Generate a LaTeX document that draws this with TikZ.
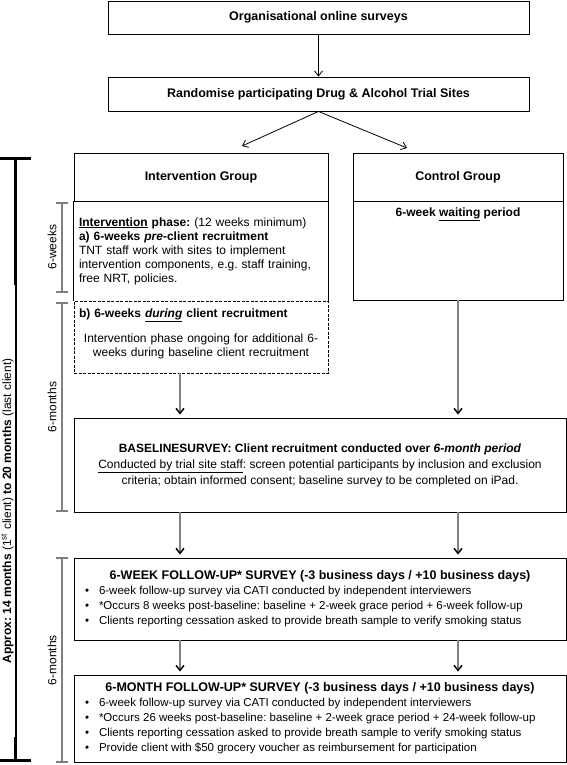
\documentclass[tikz,border=0pt]{standalone}
\usepackage{fontspec}
\setmainfont{Liberation Sans}
\usetikzlibrary{arrows.meta}
\frenchspacing
\newcommand{\bitem}[1]{\makebox[470pt][l]{\textbullet\hspace{10pt}#1}}

\begin{document}
\begin{tikzpicture}[x=1pt,y=-1pt,
    bx/.style={draw,line width=0.9pt,inner sep=0pt,align=center},
    arr/.style={-{Straight Barb[length=5pt,width=8pt,color=black]}},
    gbar/.style={draw=gray,line width=1.6pt,{Bar[width=12pt]}-{Bar[width=12pt]}},
    big/.style={font=\fontsize{12.5}{15}\selectfont\bfseries},
    txt/.style={font=\fontsize{12}{14}\selectfont},
    sm/.style={font=\fontsize{11.5}{15}\selectfont}]
  \useasboundingbox (0,0) rectangle (567,765);

  \begin{scope}[every node/.style={bx,big}]
    \node[minimum width=421pt,minimum height=33pt] (org) at (318.5,17.5) {Organisational online surveys};
    \node[minimum width=421pt,minimum height=34pt] (rand) at (318.5,94) {Randomise participating Drug \& Alcohol Trial Sites};
    \node[minimum width=254pt,minimum height=48pt] (ig) at (201,177) {Intervention Group};
    \node[minimum width=210pt,minimum height=48pt] (cg) at (458,177) {Control Group};
    \node[minimum width=210pt,minimum height=99pt] (cw) at (458,250.5) {};
  \end{scope}
  \node[txt] (cwt) at (458,214) {\textbf{6-week \underline{waiting} period}};

  \node[txt,inner xsep=5pt,inner ysep=0pt,text width=244pt,align=left,minimum height=100pt] (ia) at (201,251)
    {\textbf{\underline{Intervention} phase:} (12 weeks minimum)\\
     \textbf{a) 6-weeks \textit{pre}-client recruitment}\\
     TNT staff work with sites to implement\\
     intervention components, e.g. staff training,\\
     free NRT, policies.};
  \draw[line width=0.9pt] (ia.north west) -- (ia.south west) (ia.north east) -- (ia.south east);
  \node[txt,draw,dash pattern=on 3pt off 1.5pt,line width=0.9pt,inner xsep=5pt,inner ysep=0pt,
        text width=244pt,align=center,minimum height=72pt] (ib) at (201,337)
    {\makebox[244pt][l]{\textbf{b) 6-weeks \underline{\textit{during}} client recruitment}}\\[11pt]
     Intervention phase ongoing for additional 6-\\
     weeks during baseline client recruitment\\[-5pt]\mbox{}};

  \node[bx,font=\fontsize{12}{16}\selectfont,minimum width=492pt,minimum height=94pt] (base) at (320,465)
    {\textbf{BASELINESURVEY: Client recruitment conducted over \textit{6-month period}}\\
     \underline{Conducted by trial site staff}: screen potential participants by inclusion and exclusion\\
     criteria; obtain informed consent; baseline survey to be completed on iPad.};

  \node[bx,sm,minimum width=492pt,minimum height=82pt] (fw) at (320,599)
    {{\bfseries\fontsize{12.5}{15}\selectfont 6-WEEK FOLLOW-UP* SURVEY (-3 business days / +10 business days)}\\
     \bitem{6-week follow-up survey via CATI conducted by independent interviewers}\\
     \bitem{*Occurs 8 weeks post-baseline: baseline + 2-week grace period + 6-week follow-up}\\
     \bitem{Clients reporting cessation asked to provide breath sample to verify smoking status}};

  \node[bx,sm,minimum width=492pt,minimum height=87pt] (fm) at (320,718.5)
    {{\bfseries\fontsize{12.5}{15}\selectfont 6-MONTH FOLLOW-UP* SURVEY (-3 business days / +10 business days)}\\
     \bitem{6-week follow-up survey via CATI conducted by independent interviewers}\\
     \bitem{*Occurs 26 weeks post-baseline: baseline + 2-week grace period + 24-week follow-up}\\
     \bitem{Clients reporting cessation asked to provide breath sample to verify smoking status}\\
     \bitem{Provide client with \$50 grocery voucher as reimbursement for participation}};

  \coordinate (li) at (242,146);
  \coordinate (ri) at (407,148);
  \coordinate (lx) at (180,0);
  \coordinate (rx) at (458,0);

  \begin{scope}[every edge/.style={draw=black,line width=0.8pt,arr}]
    \path (org) edge (rand);
    \path (rand.south) edge (li);
    \path (rand.south) edge (ri);
  \end{scope}
  \begin{scope}[every edge/.style={draw=gray,line width=1.5pt,arr,shorten >=3pt}]
    \path (ib.south -| lx) edge (base.north -| lx);
    \path (cw.south) edge (base.north -| rx);
    \path (base.south -| lx) edge (fw.north -| lx);
    \path (base.south -| rx) edge (fw.north -| rx);
    \path (fw.south -| lx) edge (fm.north -| lx);
    \path (fw.south -| rx) edge (fm.north -| rx);
  \end{scope}

  \draw[line width=3.3pt,{Bar[width=31pt]}-{Bar[width=31pt]}] (15.5,157) -- (15.5,762);
  \node[rotate=90,fill=white,inner sep=0pt,minimum width=452pt,minimum height=15pt,
        font=\fontsize{12}{14}\selectfont] (span) at (7.5,511)
    {\textbf{Approx: 14 months} (1\textsuperscript{st} client) \textbf{to 20 months} (last client)};

  \draw[gbar] (62,202) -- (62,293);
  \draw[gbar] (62,302) -- (62,512);
  \draw[gbar] (62,557) -- (62,763);
  \node[rotate=90,txt] (w6) at (52,247) {6-weeks};
  \node[rotate=90,txt] (m6a) at (52,407) {6-months};
  \node[rotate=90,txt] (m6b) at (52,660) {6-months};
\end{tikzpicture}
\end{document}
